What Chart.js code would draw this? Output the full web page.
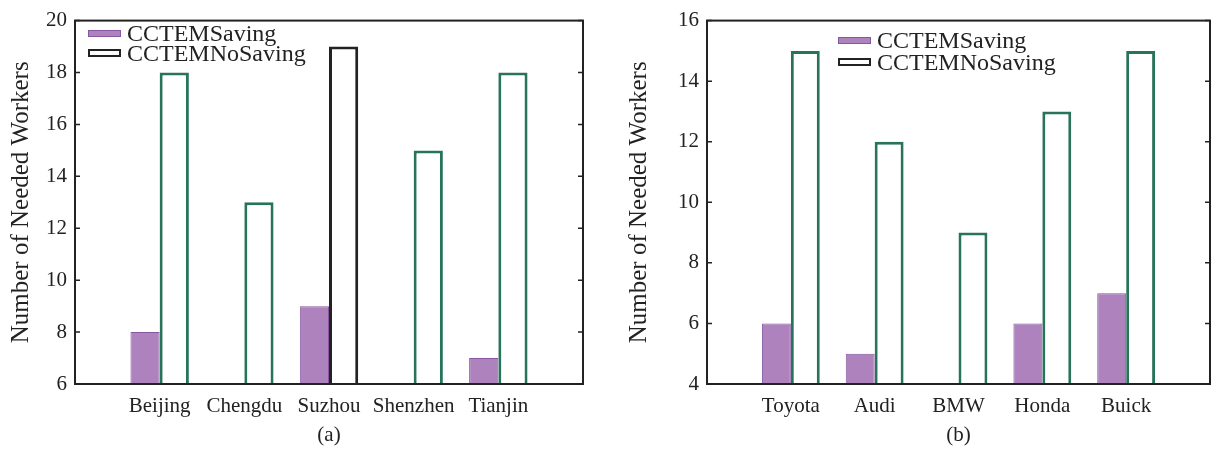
<!DOCTYPE html>
<html>
<head>
<meta charset="utf-8">
<script src="https://cdn.jsdelivr.net/npm/chart.js@4.4.0/dist/chart.umd.min.js"></script>
<style>
  body { margin: 0; background: #fff; width: 1220px; height: 452px; overflow: hidden; position: relative; font-family: 'Liberation Serif', serif; }
  .panel { position: absolute; top: 0; height: 452px; }
  .legend { position: absolute; font-size: 24px; color: #222; line-height: 1; white-space: nowrap; }
  .legend .row { position: absolute; left: 0; display: flex; align-items: center; }
  .sw { display: inline-block; width: 33px; height: 7px; margin-right: 6px; box-sizing: border-box; }
</style>
</head>
<body>
<div class="panel" style="left:0;width:615px"><canvas id="cityChart" width="615" height="452"></canvas></div>
<div class="panel" style="left:615px;width:605px"><canvas id="carChart" width="605" height="452"></canvas></div>
<div class="legend" id="cityLegend" style="left:88px;top:33px"></div>
<div class="legend" id="carLegend" style="left:838px;top:40px"></div>

<script>
// panel (a)
const cities = ['Beijing', 'Chengdu', 'Suzhou', 'Shenzhen', 'Tianjin'];
const citySaving = [8, 6, 9, 6, 7];
const cityNoSaving = [18, 13, 19, 15, 18];
const cityYMin = 6, cityYMax = 20;

// panel (b)
const brands = ['Toyota', 'Audi', 'BMW', 'Honda', 'Buick'];
const brandSaving = [6, 5, 4, 6, 7];
const brandNoSaving = [15, 12, 9, 13, 15];
const brandYMin = 4, brandYMax = 16;

const yStep = 2;
const seriesNames = ['CCTEMSaving', 'CCTEMNoSaving'];

const PURPLE = '#ad82bd';
const PURPLE_EDGE = '#8657a0';
const GREEN = '#28745a';
const INK = '#222';
const FONT = "'Liberation Serif', serif";

// empty slot at each end so the groups sit like the original
const pad = (arr, fill) => [fill, ...arr, fill];

const framePlugin = {
  id: 'frame',
  afterDatasetsDraw(chart) {
    const { ctx, chartArea: a, scales: { y } } = chart;
    ctx.save();
    ctx.strokeStyle = INK;
    ctx.lineWidth = 2;
    ctx.strokeRect(a.left, a.top, a.right - a.left, a.bottom - a.top);
    ctx.lineWidth = 1.5;
    y.ticks.forEach((t) => {
      const py = y.getPixelForValue(t.value);
      ctx.beginPath();
      ctx.moveTo(a.left, py);
      ctx.lineTo(a.left + 5, py);
      ctx.moveTo(a.right, py);
      ctx.lineTo(a.right - 5, py);
      ctx.stroke();
    });
    ctx.restore();
  },
};

function buildChart(id, labels, saving, noSaving, noSavingEdges, yMin, yMax, opts) {
  const ctx = document.getElementById(id).getContext('2d');
  return new Chart(ctx, {
    type: 'bar',
    data: {
      labels: pad(labels, ''),
      datasets: [
        {
          label: seriesNames[0],
          data: pad(saving, null),
          backgroundColor: PURPLE,
          borderColor: PURPLE_EDGE,
          borderWidth: 1,
        },
        {
          label: seriesNames[1],
          data: pad(noSaving, null),
          backgroundColor: '#fff',
          borderColor: pad(noSavingEdges, GREEN),
          borderWidth: 3,
          borderSkipped: false,
        },
      ],
    },
    options: {
      responsive: false,
      animation: false,
      events: [],
      categoryPercentage: 0.69,
      barPercentage: 1,
      layout: { padding: { top: 17, right: opts.rightPad, left: 0, bottom: 0 } },
      plugins: { legend: { display: false }, tooltip: { enabled: false } },
      scales: {
        x: {
          offset: false,
          grid: { display: false, drawTicks: false },
          border: { display: false },
          ticks: {
            autoSkip: false,
            maxRotation: 0,
            padding: 10,
            color: INK,
            font: { family: FONT, size: 21 },
          },
          title: {
            display: true,
            text: opts.caption,
            color: INK,
            font: { family: FONT, size: 21, lineHeight: 1 },
            padding: { top: 0, bottom: 6 },
          },
          afterFit: (scale) => { scale.height = 68; },
        },
        y: {
          min: yMin,
          max: yMax,
          grid: { display: false, drawTicks: false },
          border: { display: false },
          ticks: {
            stepSize: yStep,
            padding: 8,
            color: INK,
            font: { family: FONT, size: 21 },
          },
          title: {
            display: true,
            text: 'Number of Needed Workers',
            color: INK,
            font: { family: FONT, size: 25, lineHeight: 1 },
            padding: { top: opts.titlePad, bottom: 0 },
          },
          afterFit: (scale) => { scale.width = opts.axisLeft; },
        },
      },
    },
    plugins: [framePlugin],
  });
}

function buildLegend(id, gap) {
  const box = document.getElementById(id);
  const swatches = [
    `background:${PURPLE};border:1px solid ${PURPLE_EDGE};`,
    `background:#fff;border:2.5px solid ${INK};height:8px;`,
  ];
  seriesNames.forEach((name, i) => {
    const row = document.createElement('div');
    row.className = 'row';
    row.style.top = `${i * gap - 12}px`;
    row.innerHTML = `<span class="sw" style="${swatches[i]}"></span><span>${name}</span>`;
    box.appendChild(row);
  });
}

buildChart('cityChart', cities, citySaving, cityNoSaving,
  [GREEN, GREEN, INK, GREEN, GREEN], cityYMin, cityYMax,
  { axisLeft: 75, rightPad: 32, titlePad: 9, caption: '(a)' });

buildChart('carChart', brands, brandSaving, brandNoSaving,
  [GREEN, GREEN, GREEN, GREEN, GREEN], brandYMin, brandYMax,
  { axisLeft: 92, rightPad: 4, titlePad: 12, caption: '(b)' });

buildLegend('cityLegend', 20);
buildLegend('carLegend', 22);
</script>
</body>
</html>
